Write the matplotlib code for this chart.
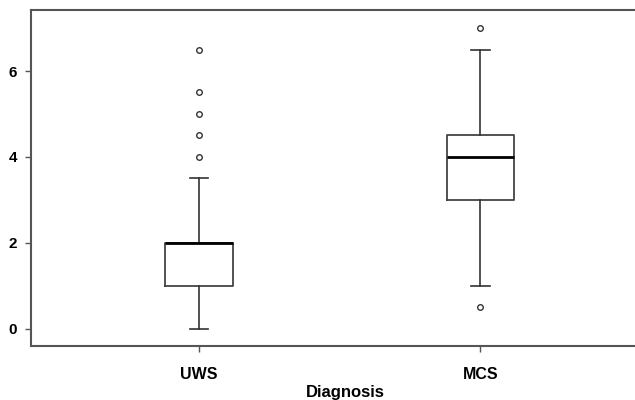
import matplotlib.pyplot as plt

# Box statistics
groups = ['UWS', 'MCS']
whisk_lo = [0.0, 1.0]
q1 = [1.0, 3.0]
med = [2.0, 4.0]
q3 = [2.0, 4.5]
whisk_hi = [3.5, 6.5]
outliers = [[4.0, 4.5, 5.0, 5.5, 6.5], [7.0, 0.5]]

stats = []
for i, g in enumerate(groups):
    stats.append({'label': g, 'whislo': whisk_lo[i], 'q1': q1[i], 'med': med[i],
                  'q3': q3[i], 'whishi': whisk_hi[i], 'fliers': outliers[i]})

plt.rcParams['font.family'] = ['Liberation Sans', 'DejaVu Sans']

fig = plt.figure(figsize=(6.35, 4), dpi=100)
ax = fig.add_axes([0.049, 0.135, 0.951, 0.84])

ax.bxp(stats, positions=[1, 2], widths=0.24, capwidths=0.065,
       boxprops=dict(color='#444444', linewidth=1.3),
       medianprops=dict(color='black', linewidth=2.0),
       whiskerprops=dict(color='#333333', linewidth=1.2),
       capprops=dict(color='#333333', linewidth=1.2),
       flierprops=dict(marker='o', markersize=4, markerfacecolor='white',
                       markeredgecolor='#333333', markeredgewidth=1.0))

ax.set_xlim(0.402, 2.55)
ax.set_ylim(-0.4, 7.42)
ax.set_yticks([0, 2, 4, 6])
ax.set_xticks([1, 2])
ax.set_xticklabels(groups, fontsize=11.5, fontweight='bold')
for t in ax.get_yticklabels():
    t.set_fontsize(11)
    t.set_fontweight('bold')
ax.set_xlabel('Diagnosis', fontsize=12, fontweight='bold')
ax.xaxis.set_label_coords(0.521, -0.115)

ax.spines['right'].set_visible(False)
for s in ['left', 'top', 'bottom']:
    ax.spines[s].set_color('#555555')
    ax.spines[s].set_linewidth(1.5)
ax.tick_params(axis='y', direction='out', length=4, width=1, color='#555555', pad=6)
ax.tick_params(axis='x', direction='out', length=4, width=1, color='#555555', pad=11)

fig.savefig('out.png', dpi=100)
